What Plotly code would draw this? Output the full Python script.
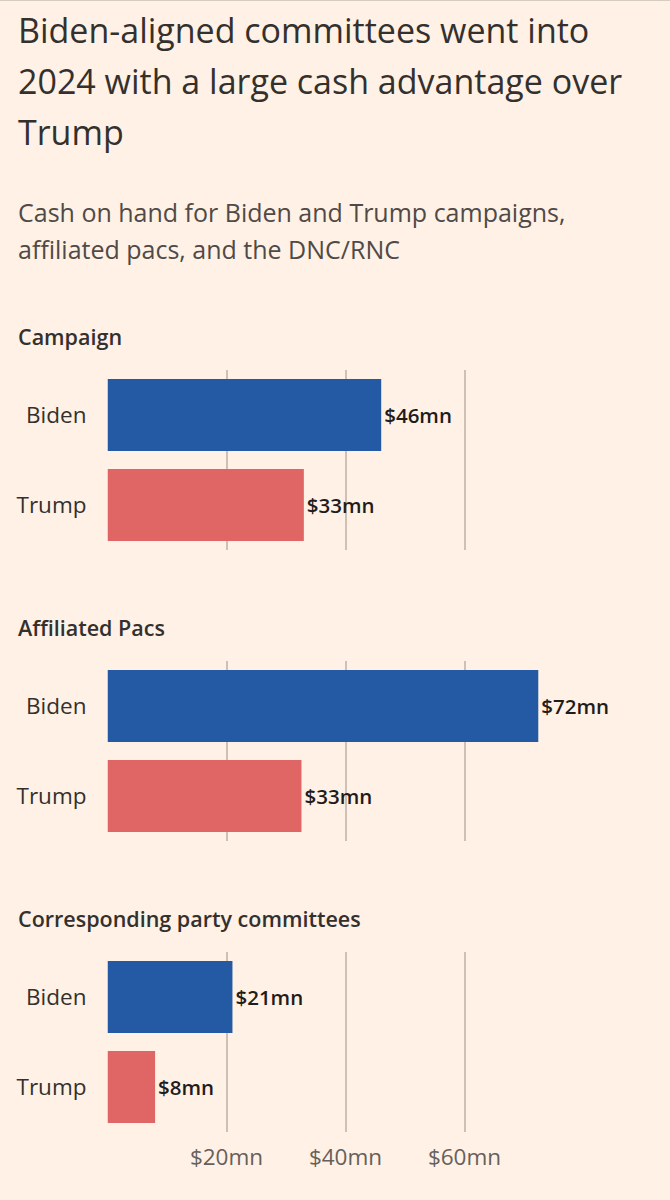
import plotly.graph_objects as go

# ---- data ----
sections = ["Campaign", "Affiliated Pacs", "Corresponding party committees"]
candidates = ["Biden", "Trump"]
biden_values = [46, 72.4, 21]
trump_values = [33, 32.6, 8]
tick_values = [20, 40, 60]
tick_labels = ["$20mn", "$40mn", "$60mn"]

title_lines = ["Biden-aligned committees went into",
               "2024 with a large cash advantage over",
               "Trump"]
subtitle_lines = ["Cash on hand for Biden and Trump campaigns,",
                  "affiliated pacs, and the DNC/RNC"]

# ---- styling ----
W, H = 670, 1200
BG = "#FFF1E5"
BLUE = "#2459A3"
RED = "#E06666"
DARK = "#33302E"
GREY = "#66605C"
FONT = "Open Sans"

x0_px, x1_px = 107.5, 643.0
x_range = [0, 90]
panel_px = [(370, 550), (661, 841), (952, 1132)]
heading_px = [336, 627, 918]


def py(px):
    return 1 - px / H


fig = go.Figure()
layout = dict(
    width=W, height=H,
    paper_bgcolor=BG, plot_bgcolor=BG,
    margin=dict(l=0, r=0, t=0, b=0),
    showlegend=False,
    font=dict(family=FONT, color=DARK),
    bargap=0.2,
)

for i, sec in enumerate(sections):
    n = "" if i == 0 else str(i + 1)
    vals = [biden_values[i], trump_values[i]]
    fig.add_trace(go.Bar(
        x=vals, y=candidates, orientation="h",
        marker=dict(color=[BLUE, RED], line=dict(width=0)),
        text=[f"${round(v)}mn" for v in vals],
        textposition="outside", cliponaxis=False,
        textfont=dict(size=20.5, color="#1F1C1B", family=FONT, weight=600),
        xaxis="x" + n, yaxis="y" + n,
        hoverinfo="skip",
    ))
    top, bot = panel_px[i]
    layout["xaxis" + n] = dict(
        domain=[x0_px / W, x1_px / W], range=x_range, anchor="y" + n,
        showgrid=True, gridcolor="rgba(0,0,0,0.2)", gridwidth=1.5,
        tickvals=tick_values, ticktext=tick_labels,
        showticklabels=(i == 2), ticks="", zeroline=False, showline=False,
        layer="above traces", fixedrange=True,
        tickfont=dict(size=22.5, color=GREY, family=FONT),
        ticklabelstandoff=9, automargin=False,
    )
    layout["yaxis" + n] = dict(
        domain=[py(bot), py(top)], anchor="x" + n,
        categoryorder="array", categoryarray=candidates, autorange="reversed",
        showgrid=False, zeroline=False, showline=False, ticks="",
        tickfont=dict(size=22.5, color=DARK, family=FONT),
        ticklabelstandoff=20, automargin=False, fixedrange=True,
    )

fig.update_layout(**layout)

annotations = []
for txt, ypx in zip(title_lines, [30, 81, 132]):
    annotations.append(dict(text=txt, x=16 / W, y=py(ypx), xref="paper", yref="paper",
                            xanchor="left", yanchor="middle", showarrow=False,
                            font=dict(size=34, color=DARK, family=FONT)))
for txt, ypx in zip(subtitle_lines, [212, 249]):
    annotations.append(dict(text=txt, x=16 / W, y=py(ypx), xref="paper", yref="paper",
                            xanchor="left", yanchor="middle", showarrow=False,
                            font=dict(size=25, color="#4F4A47", family=FONT)))
for sec, ypx in zip(sections, heading_px):
    annotations.append(dict(text=sec, x=16 / W, y=py(ypx), xref="paper", yref="paper",
                            xanchor="left", yanchor="middle", showarrow=False,
                            font=dict(size=21.5, color=DARK, family=FONT, weight=600)))
fig.update_layout(annotations=annotations)

fig.add_shape(type="line", xref="paper", yref="paper", x0=0, x1=1, y0=1, y1=1,
              line=dict(color="#D6CCC2", width=2))

fig.write_html(
    "out.html",
    config={"displayModeBar": False},
    post_script="document.body.style.margin='0';document.body.style.background='#FFF1E5';",
)
